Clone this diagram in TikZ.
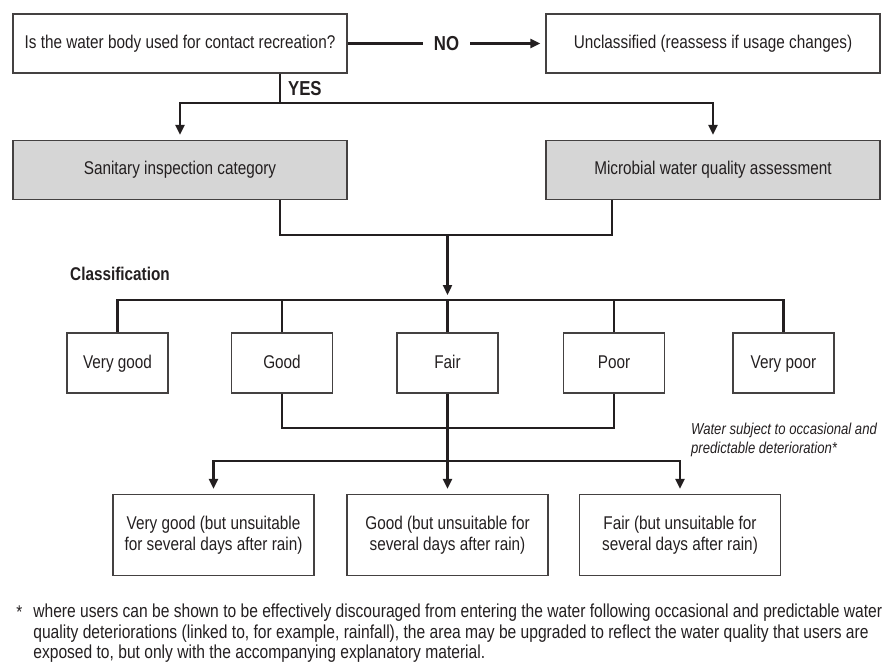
\documentclass[tikz,border=0pt]{standalone}
\usepackage{fontspec}
\setmainfont{Liberation Sans}[FakeStretch=0.83]
\usetikzlibrary{arrows.meta}
\definecolor{ink}{HTML}{231F20}
\tikzset{
	box/.style={draw=ink!85, line width=0.8pt, text=ink, align=center, inner sep=2pt},
	wide/.style={box, minimum width=6.68cm, minimum height=1.18cm},
	greybox/.style={wide, fill=black!16},
	cls/.style={box, minimum width=2.02cm, minimum height=1.2cm, text height=1.6ex, text depth=0.45ex},
	rain/.style={box, minimum width=4.02cm, minimum height=1.62cm},
	link/.style={draw=ink, line width=1.3pt},
	arr/.style={link, -{Triangle[length=0.2cm,width=0.18cm]}, shorten >=0.1cm}
}
\begin{document}
\begin{tikzpicture}[x=0.02cm, y=-0.02cm, font=\fontsize{10.5}{12.2}\selectfont]
	\useasboundingbox (0,0) rectangle (882,663);

	\node[wide] (q) at (180,43.5) {Is the water body used for contact recreation?};
	\node[wide] (uncl) at (713,43.5) {Unclassified (reassess if usage changes)};
	\node[greybox] (sani) at (180,170) {Sanitary inspection category};
	\node[greybox] (micro) at (713,170) {Microbial water quality assessment};

	\node[cls] (vgood) at (117.5,363) {Very good};
	\node[cls] (good) at (282,363) {Good};
	\node[cls] (fair) at (447.5,363) {Fair};
	\node[cls] (poor) at (614,363) {Poor};
	\node[cls] (vpoor) at (783.5,363) {Very poor};

	\node[rain] (rvgood) at (213.5,535) {Very good (but unsuitable\\for several days after rain)};
	\node[rain] (rgood) at (447.5,535) {Good (but unsuitable for\\several days after rain)};
	\node[rain] (rfair) at (680,535) {Fair (but unsuitable for\\several days after rain)};

	\coordinate (yes) at (280,103);
	\coordinate (join) at (447.5,235);
	\coordinate (mjoin) at (612,235);
	\coordinate (bus) at (447.5,300);
	\coordinate (pair) at (447.5,428);
	\coordinate (low) at (447.5,461);

	\draw[arr] (q.east) -- node[fill=white, text=ink, inner xsep=6pt, font=\fontsize{11.5}{13}\selectfont\bfseries] {NO} (uncl.west);
	\draw[link] (q.south -| yes) -- (yes);
	\node[anchor=south west, text=ink, inner sep=1pt, font=\fontsize{11.5}{13}\selectfont\bfseries] (yeslbl) at ([xshift=0.12cm,yshift=0.1cm]yes) {YES};
	\draw[arr] (yes) -| (sani.north);
	\draw[arr] (yes) -| (micro.north);

	\draw[link] (sani.south -| yes) |- (mjoin) -- (mjoin |- micro.south);
	\draw[arr] (join) -- (bus);
	\node[anchor=west, text=ink, font=\fontsize{10.5}{12}\selectfont\bfseries] (classlbl) at (64,274) {Classification};

	\draw[link] (vgood.north) |- (bus) -| (vpoor.north);
	\foreach \n in {good,fair,poor}
		\draw[link] (\n.north) -- (\n.north |- bus);

	\draw[link] (good.south) |- (pair) -| (poor.south);
	\draw[arr] (fair.south) -- (rgood.north);
	\draw[arr] (low) -| (rvgood.north);
	\draw[arr] (low) -| (rfair.north);

	\node[anchor=west, align=left, text=ink, inner sep=1pt, font=\fontsize{9}{11}\selectfont\itshape] (note) at (689,440) {Water subject to occasional and\\predictable deterioration*};

	\node[anchor=north west, text=ink, inner sep=0pt] (star) at (16,605) {*};
	\node[anchor=north west, align=left, text=ink, inner sep=0pt, font=\fontsize{10.7}{11.4}\selectfont] (foot) at (33,604) {where users can be shown to be effectively discouraged from entering the water following occasional and predictable water\\quality deteriorations (linked to, for example, rainfall), the area may be upgraded to reflect the water quality that users are\\exposed to, but only with the accompanying explanatory material.};
\end{tikzpicture}
\end{document}
